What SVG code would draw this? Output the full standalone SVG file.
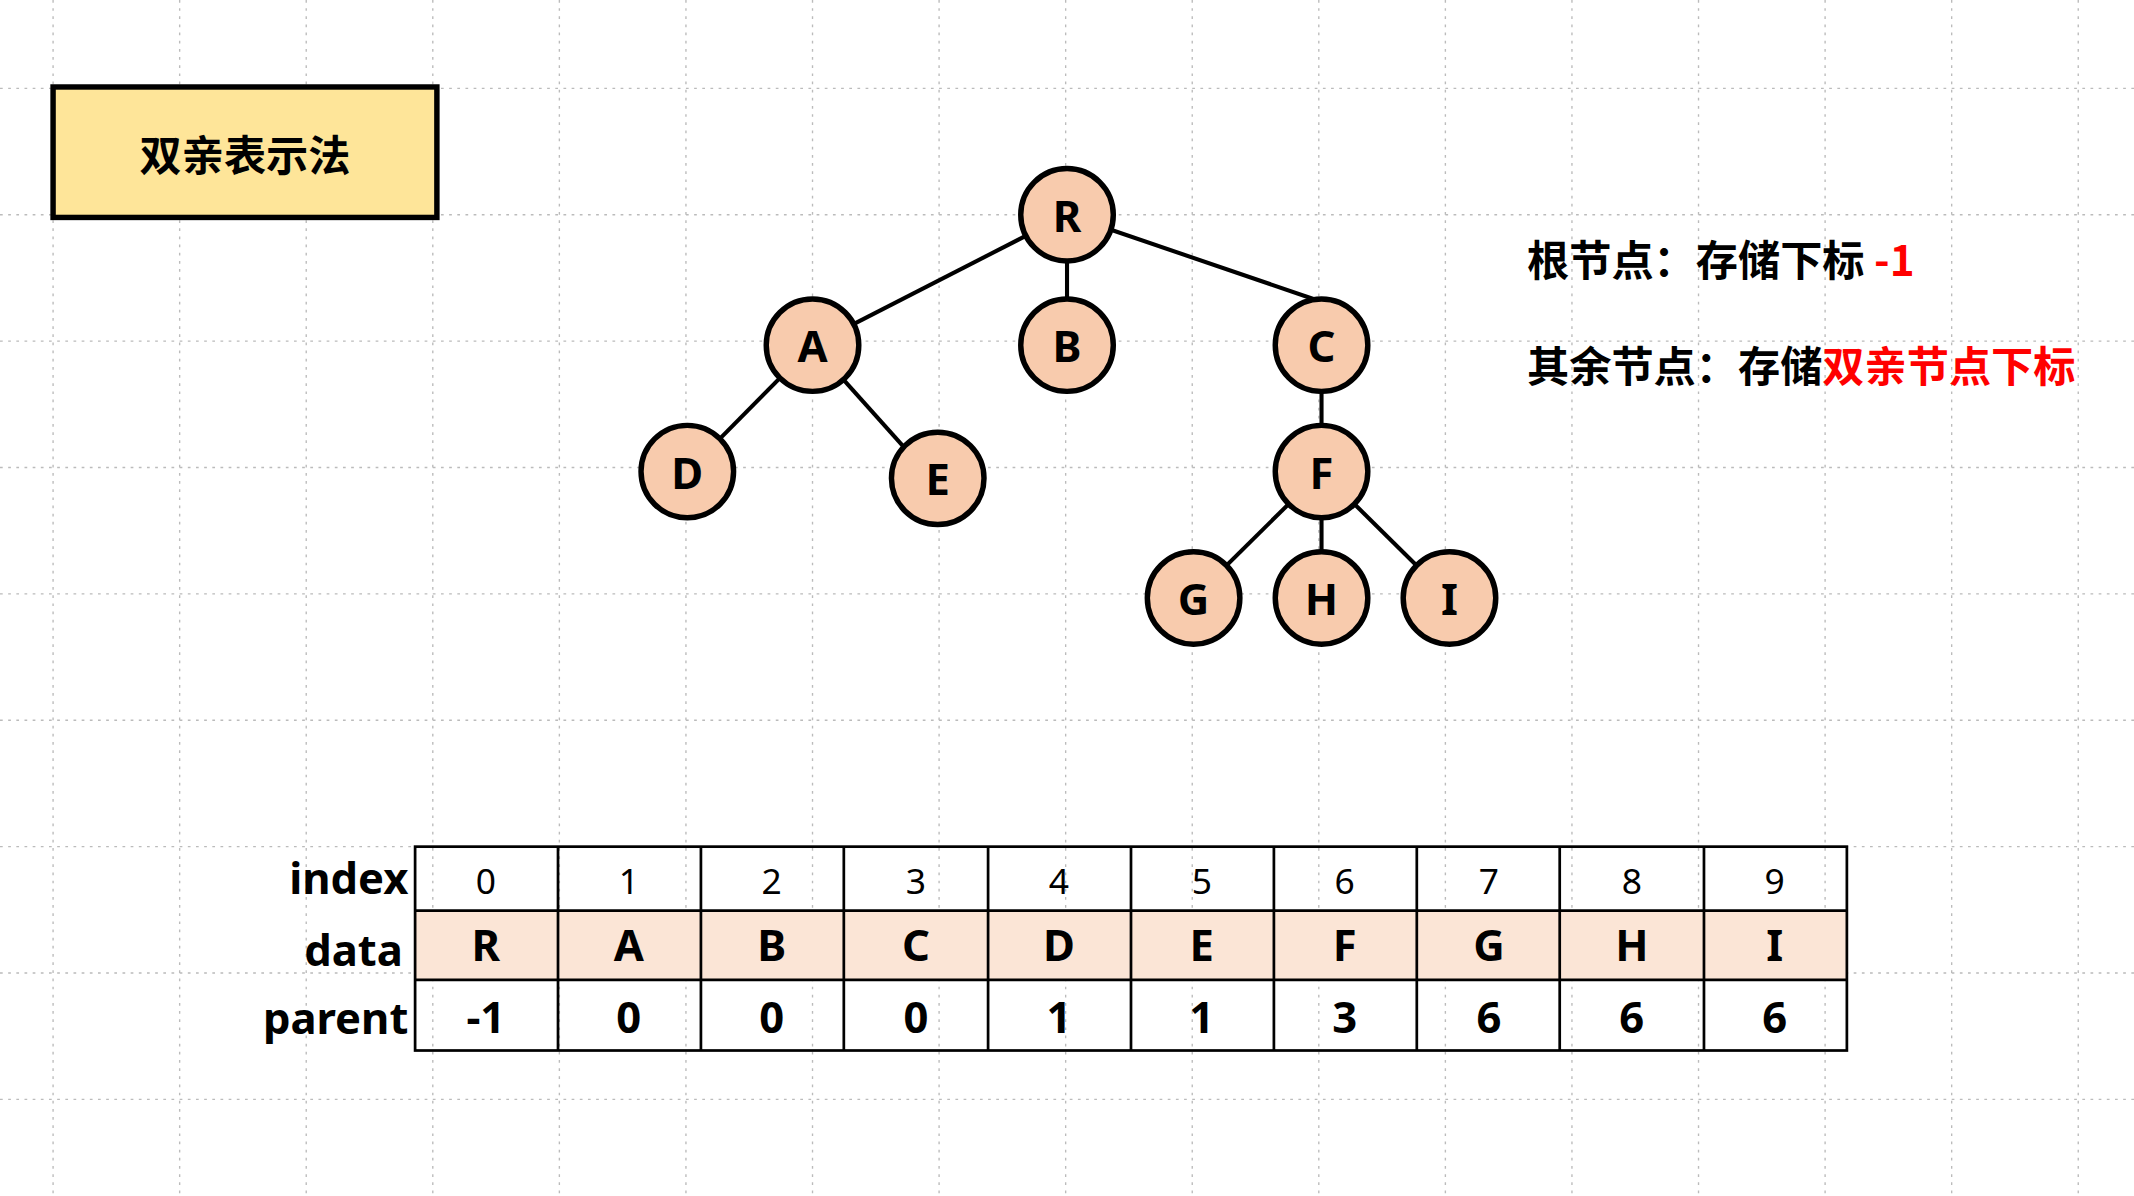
<svg xmlns="http://www.w3.org/2000/svg" width="2134" height="1196" viewBox="0 0 2134 1196">
<style>
.n circle{fill:#f8cbad;stroke:#000;stroke-width:4}
.n text{font-family:"Noto Sans","Open Sans",sans-serif;font-weight:bold;font-size:32px;text-anchor:middle;dominant-baseline:central}
.grid line{stroke:#bbb;stroke-width:1;stroke-dasharray:2 4}
.c line{stroke:#000;stroke-width:3}
.t{font-family:"Noto Sans","Open Sans",sans-serif;text-anchor:middle}
.lab{font-family:"Noto Sans","Open Sans",sans-serif;font-weight:bold;font-size:32px;text-anchor:end}
.cj{font-family:"Noto Sans CJK SC",sans-serif;font-weight:bold;font-size:31px}
</style>
<rect width="2134" height="1196" fill="#fff"/>
<g transform="scale(1.361,1.359)">
<g class="grid">
<line x1="39" y1="0" x2="39" y2="880"/><line x1="132" y1="0" x2="132" y2="880"/><line x1="225" y1="0" x2="225" y2="880"/><line x1="318" y1="0" x2="318" y2="880"/><line x1="411" y1="0" x2="411" y2="880"/><line x1="504" y1="0" x2="504" y2="880"/><line x1="597" y1="0" x2="597" y2="880"/><line x1="690" y1="0" x2="690" y2="880"/><line x1="783" y1="0" x2="783" y2="880"/><line x1="876" y1="0" x2="876" y2="880"/><line x1="969" y1="0" x2="969" y2="880"/><line x1="1062" y1="0" x2="1062" y2="880"/><line x1="1155" y1="0" x2="1155" y2="880"/><line x1="1248" y1="0" x2="1248" y2="880"/><line x1="1341" y1="0" x2="1341" y2="880"/><line x1="1434" y1="0" x2="1434" y2="880"/><line x1="1527" y1="0" x2="1527" y2="880"/>
<line x1="0" y1="65" x2="1568" y2="65"/><line x1="0" y1="158" x2="1568" y2="158"/><line x1="0" y1="251" x2="1568" y2="251"/><line x1="0" y1="344" x2="1568" y2="344"/><line x1="0" y1="437" x2="1568" y2="437"/><line x1="0" y1="530" x2="1568" y2="530"/><line x1="0" y1="623" x2="1568" y2="623"/><line x1="0" y1="716" x2="1568" y2="716"/><line x1="0" y1="809" x2="1568" y2="809"/>
</g>
<g id="title"><rect x="39" y="64" width="282" height="96" fill="#fee599" stroke="#000" stroke-width="4"/>
<text x="180" y="112" class="cj" text-anchor="middle" dominant-baseline="central">双亲表示法</text></g>
<g class="c" id="connectors">
<line x1="784" y1="158" x2="597" y2="254"/><line x1="784" y1="158" x2="784" y2="254"/><line x1="784" y1="158" x2="971" y2="222"/>
<line x1="597" y1="254" x2="505" y2="347"/><line x1="597" y1="254" x2="665" y2="330"/>
<line x1="971" y1="254" x2="971" y2="347"/>
<line x1="971" y1="347" x2="877" y2="440"/><line x1="971" y1="347" x2="971" y2="440"/><line x1="971" y1="347" x2="1065" y2="440"/>
</g>
<g class="n" id="R"><circle cx="784" cy="158" r="34"/><text x="784" y="158">R</text></g>
<g class="n" id="A"><circle cx="597" cy="254" r="34"/><text x="597" y="254">A</text></g>
<g class="n" id="B"><circle cx="784" cy="254" r="34"/><text x="784" y="254">B</text></g>
<g class="n" id="C"><circle cx="971" cy="254" r="34"/><text x="971" y="254">C</text></g>
<g class="n" id="D"><circle cx="505" cy="347" r="34"/><text x="505" y="347">D</text></g>
<g class="n" id="E"><circle cx="689" cy="352" r="34"/><text x="689" y="352">E</text></g>
<g class="n" id="F"><circle cx="971" cy="347" r="34"/><text x="971" y="347">F</text></g>
<g class="n" id="G"><circle cx="877" cy="440" r="34"/><text x="877" y="440">G</text></g>
<g class="n" id="H"><circle cx="971" cy="440" r="34"/><text x="971" y="440">H</text></g>
<g class="n" id="I"><circle cx="1065" cy="440" r="34"/><text x="1065" y="440">I</text></g>
<g id="notes">
<text x="1122" y="203" class="cj">根节点：存储下标 <tspan fill="#f00">-1</tspan></text>
<text x="1122" y="281" class="cj">其余节点：存储<tspan fill="#f00">双亲节点下标</tspan></text>
</g>
<g id="table">
<rect x="305" y="670" width="1052" height="51" fill="#fbe5d6"/>
<rect x="305" y="623" width="1052" height="150" fill="none" stroke="#000" stroke-width="2"/>
<line x1="305" y1="670" x2="1357" y2="670" stroke="#000" stroke-width="2"/>
<line x1="305" y1="721" x2="1357" y2="721" stroke="#000" stroke-width="2"/>
<g stroke="#000" stroke-width="2">
<line x1="410" y1="623" x2="410" y2="773"/><line x1="515" y1="623" x2="515" y2="773"/><line x1="620" y1="623" x2="620" y2="773"/><line x1="726" y1="623" x2="726" y2="773"/><line x1="831" y1="623" x2="831" y2="773"/><line x1="936" y1="623" x2="936" y2="773"/><line x1="1041" y1="623" x2="1041" y2="773"/><line x1="1146" y1="623" x2="1146" y2="773"/><line x1="1252" y1="623" x2="1252" y2="773"/>
</g>
<text x="300" y="658" class="lab">index</text>
<text x="296" y="711" class="lab">data</text>
<text x="300" y="761" class="lab">parent</text>
<g class="t" font-size="26">
<text x="357" y="658">0</text><text x="462" y="658">1</text><text x="567" y="658">2</text><text x="673" y="658">3</text><text x="778" y="658">4</text><text x="883" y="658">5</text><text x="988" y="658">6</text><text x="1094" y="658">7</text><text x="1199" y="658">8</text><text x="1304" y="658">9</text>
</g>
<g class="t" font-size="32" font-weight="bold">
<text x="357" y="707">R</text><text x="462" y="707">A</text><text x="567" y="707">B</text><text x="673" y="707">C</text><text x="778" y="707">D</text><text x="883" y="707">E</text><text x="988" y="707">F</text><text x="1094" y="707">G</text><text x="1199" y="707">H</text><text x="1304" y="707">I</text>
<text x="357" y="760">-1</text><text x="462" y="760">0</text><text x="567" y="760">0</text><text x="673" y="760">0</text><text x="778" y="760">1</text><text x="883" y="760">1</text><text x="988" y="760">3</text><text x="1094" y="760">6</text><text x="1199" y="760">6</text><text x="1304" y="760">6</text>
</g>
</g>
</g>
</svg>
